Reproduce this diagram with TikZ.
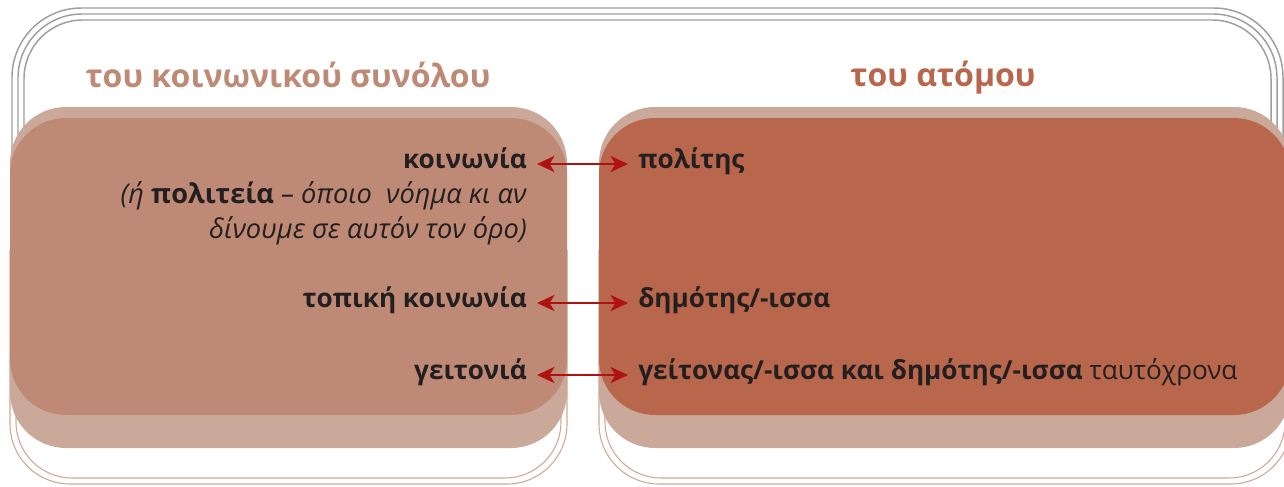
\documentclass[tikz,border=0pt]{standalone}
\usepackage{fontspec}
\setmainfont{Open Sans}
\usetikzlibrary{arrows.meta}
\definecolor{tanback}{RGB}{203,169,154}
\definecolor{tanfront}{RGB}{190,138,118}
\definecolor{rust}{RGB}{185,103,76}
\definecolor{arrred}{RGB}{176,18,18}
\definecolor{framegray}{RGB}{158,158,158}
\definecolor{rim}{RGB}{208,166,150}
\definecolor{ink}{RGB}{35,31,32}

\tikzset{
  lbl/.style={inner sep=0pt, text=ink, font=\fontsize{19.6}{24}\selectfont, text height=1.3ex, text depth=0.15ex},
  notetext/.style={lbl, font=\fontsize{20.4}{24}\selectfont},
  heading/.style={inner sep=0pt, font=\fontsize{24}{28}\selectfont\bfseries},
  link/.style={arrred, line width=2.2pt, {Stealth[length=13pt,width=12pt,inset=3.5pt]}-{Stealth[length=13pt,width=12pt,inset=3.5pt]}, shorten <=7.5pt, shorten >=7.5pt},
  frameline/.style={framegray, line width=1.1pt},
  rimline/.style={rim, line width=0.8pt},
}

\begin{document}
\begin{tikzpicture}[x=0.75pt,y=0.75pt,yscale=-1,xscale=1]
	\useasboundingbox (0,0) rectangle (1284,486);

	% gray frame round the top
	\draw [frameline, rounded corners=52pt] (12,260) -- (12,8) -- (1283,8) -- (1283,260);
	\draw [frameline, rounded corners=48pt] (18,260) -- (18,14) -- (1277,14) -- (1277,260);
	\draw [frameline, rounded corners=44pt] (24,260) -- (24,20) -- (1271,20) -- (1271,260);

	% thin rims under the panels
	\draw [rimline, rounded corners=45pt] (10,250) -- (10,484) -- (567,484) -- (567,250);
	\draw [rimline, rounded corners=42pt] (16,250) -- (16,478) -- (561,478) -- (561,250);
	\draw [rimline, rounded corners=45pt] (599,250) -- (599,484) -- (1291,484) -- (1291,250);
	\draw [rimline, rounded corners=42pt] (605,250) -- (605,478) -- (1285,478) -- (1285,250);

	% panels
	\fill [tanback, rounded corners=42pt] (10,107) rectangle (567,448);
	\fill [tanfront, rounded corners=42pt] (10,118) rectangle (567,415);
	\fill [tanback, rounded corners=42pt] (599,107) rectangle (1290,448);
	\fill [rust, rounded corners=42pt] (599,118) rectangle (1290,415);

	% headings
	\node [heading, text=tanfront] (titleSoc) at (288,75) {του κοινωνικού συνόλου};
	\node [heading, text=rust] (titleInd) at (943,78) {του ατόμου};

	% left column
	\node [lbl, anchor=east] (koinonia) at (527,164) {\textbf{κοινωνία}};
	\node [notetext, anchor=east] (noteA) at (527,199) {\textit{(ή }\textbf{πολιτεία}\textit{ – όποιο\ \ νόημα κι αν}};
	\node [notetext, anchor=east] (noteB) at (527,234) {\textit{δίνουμε σε αυτόν τον όρο)}};
	\node [lbl, anchor=east] (topiki) at (527,303) {\textbf{τοπική κοινωνία}};
	\node [lbl, anchor=east] (geitonia) at (527,375) {\textbf{γειτονιά}};

	% right column
	\node [lbl, anchor=west] (polites) at (638,164) {\textbf{πολίτης}};
	\node [lbl, anchor=west] (demotes) at (638,303) {\textbf{δημότης/-ισσα}};
	\node [lbl, anchor=west] (geitonas) at (638,375) {\textbf{γείτονας/-ισσα και δημότης/-ισσα} ταυτόχρονα};

	% links
	\draw [link] (koinonia.east) -- (polites.west);
	\draw [link] (topiki.east) -- (demotes.west);
	\draw [link] (geitonia.east) -- (geitonas.west);
\end{tikzpicture}
\end{document}
